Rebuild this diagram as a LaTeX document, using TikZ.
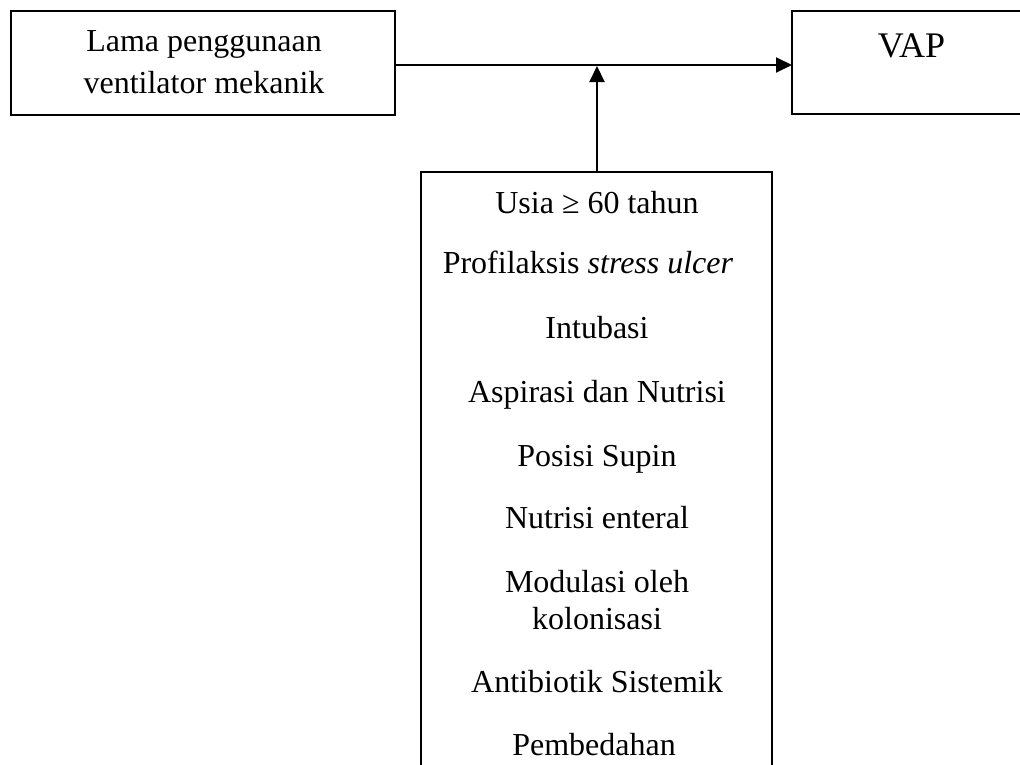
\documentclass[tikz,border=0pt]{standalone}
\usepackage{fontspec}
\setmainfont{Liberation Serif}
\usetikzlibrary{arrows.meta}
\begin{document}
\begin{tikzpicture}[x=1pt,y=-1pt,
  box/.style={draw,line width=1.5pt,inner sep=0pt,outer sep=0pt},
  conn/.style={line width=2pt,-{Triangle[length=16pt,width=15pt]}},
  lbl/.style={inner sep=0pt,anchor=base,font=\fontsize{32}{38}\selectfont},
  big/.style={inner sep=0pt,anchor=base,font=\fontsize{36}{42}\selectfont}]
\useasboundingbox (0,0) rectangle (1020,764);
\clip (0,0) rectangle (1020,764);
\fill[white] (0,0) rectangle (1020,764);
% boxes
\node[box,minimum width=384pt,minimum height=104pt] (a) at (203,63) {};
\node[box,minimum width=239pt,minimum height=103pt] (v) at (911.5,62.5) {};
\node[box,minimum width=351pt,minimum height=648pt] (b) at (596.5,496) {};
% texts
\node[lbl] (a1) at (204,51) {Lama penggunaan};
\node[lbl] (a2) at (204,93) {ventilator mekanik};
\node[big] (v1) at (911.5,57) {VAP};
\node[lbl] (b1) at (597,213) {Usia ≥ 60 tahun};
\node[lbl] (b2) at (588,273) {Profilaksis \textit{stress ulcer}};
\node[lbl] (b3) at (597,338) {Intubasi};
\node[lbl] (b4) at (597,402) {Aspirasi dan Nutrisi};
\node[lbl] (b5) at (597,466) {Posisi Supin};
\node[lbl] (b6) at (597,528) {Nutrisi enteral};
\node[lbl] (b7) at (597,592) {Modulasi oleh};
\node[lbl] (b8) at (597,629) {kolonisasi};
\node[lbl] (b9) at (597,692) {Antibiotik Sistemik};
\node[lbl] (b10) at (594,755) {Pembedahan};
% connectors
\coordinate (h) at (0,65);
\coordinate (j) at (597,66);
\draw[conn] (a.east |- h) -- (v.west |- h);
\draw[conn] (b.north -| j) -- (j);
\end{tikzpicture}
\end{document}
